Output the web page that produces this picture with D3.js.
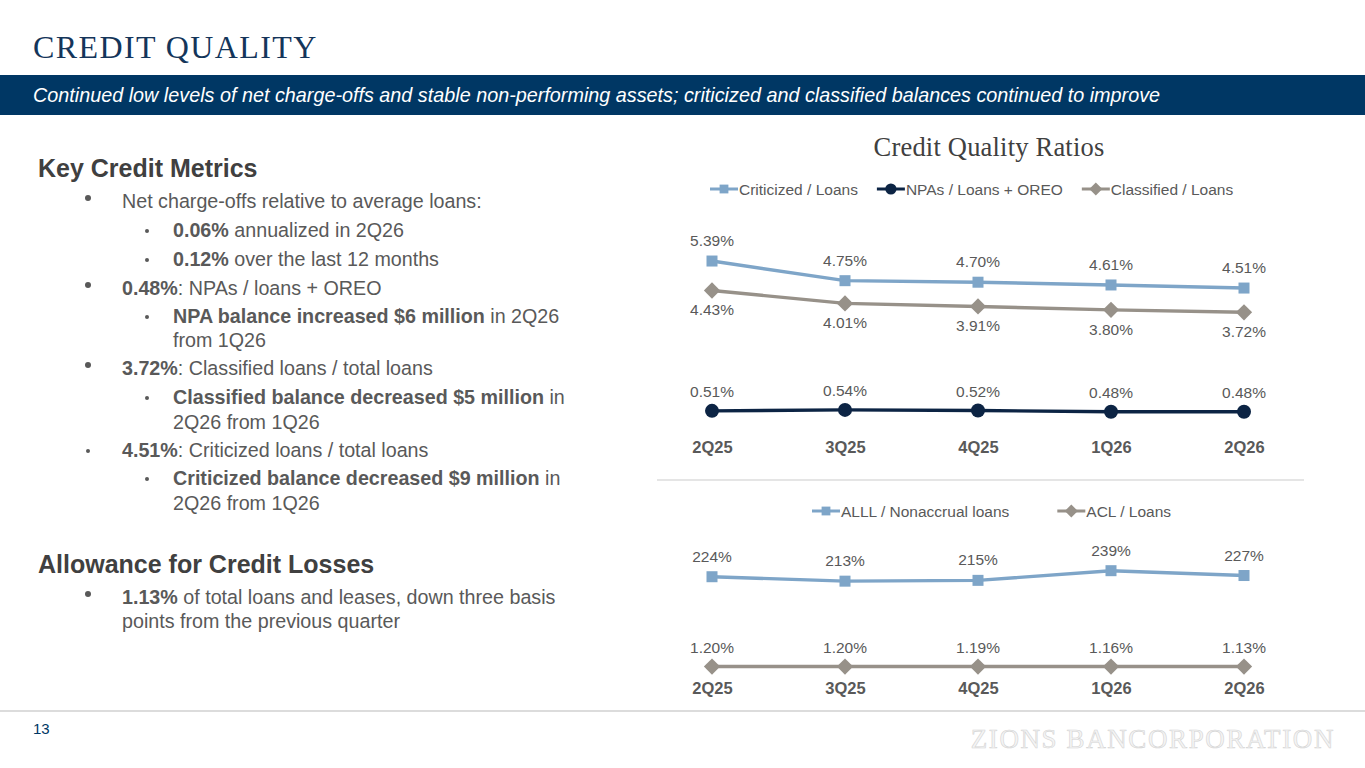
<!DOCTYPE html>
<html>
<head>
<meta charset="utf-8">
<script src="https://cdn.jsdelivr.net/npm/d3@7"></script>
<style>
  body { margin: 0; background: #fff; }
  svg { display: block; font-family: Arial, "Liberation Sans", sans-serif; }
</style>
</head>
<body>
<div id="slide"></div>
<script>
// data
var quarters = ["2Q25", "3Q25", "4Q25", "1Q26", "2Q26"];
var criticized = [5.39, 4.75, 4.70, 4.61, 4.51];
var npas = [0.51, 0.54, 0.52, 0.48, 0.48];
var classified = [4.43, 4.01, 3.91, 3.80, 3.72];
var alll = [224, 213, 215, 239, 227];
var acl = [1.20, 1.20, 1.19, 1.16, 1.13];

var svgWidth = 1365;
var svgHeight = 768;

var navy = "#003764";
var textGray = "#595959";
var blue = "#7ea5c8";
var dark = "#0c2444";
var gray = "#979189";

var svg = d3.select("#slide")
  .append("svg")
  .attr("width", svgWidth)
  .attr("height", svgHeight);

// header
svg.append("text")
  .attr("x", 33)
  .attr("y", 58)
  .attr("font-family", "'Liberation Serif', serif")
  .attr("font-size", "32px")
  .attr("letter-spacing", "1.4px")
  .attr("fill", "#14355a")
  .text("CREDIT QUALITY");

svg.append("rect")
  .attr("x", 0).attr("y", 75)
  .attr("width", svgWidth).attr("height", 40)
  .attr("fill", navy);

svg.append("text")
  .attr("x", 33)
  .attr("y", 102)
  .attr("font-size", "19.8px")
  .attr("font-style", "italic")
  .attr("fill", "#fff")
  .text("Continued low levels of net charge-offs and stable non-performing assets; criticized and classified balances continued to improve");

// left side text
function heading(txt, y) {
  svg.append("text")
    .attr("x", 38).attr("y", y)
    .attr("font-size", "25px")
    .attr("font-weight", "bold")
    .attr("fill", "#404040")
    .text(txt);
}

// each line: level (0 none, 1 bullet, 2 sub bullet, 3 small bullet), parts [text, bold]
var lines = [
  { y: 208, lvl: 1, parts: [["Net charge-offs relative to average loans:", false]] },
  { y: 237, lvl: 2, parts: [["0.06%", true], [" annualized in 2Q26", false]] },
  { y: 266, lvl: 2, parts: [["0.12%", true], [" over the last 12 months", false]] },
  { y: 295, lvl: 1, parts: [["0.48%", true], [": NPAs / loans + OREO", false]] },
  { y: 323, lvl: 2, parts: [["NPA balance increased $6 million", true], [" in 2Q26", false]] },
  { y: 347, lvl: 0, x: 173, parts: [["from 1Q26", false]] },
  { y: 375, lvl: 1, parts: [["3.72%", true], [": Classified loans / total loans", false]] },
  { y: 404, lvl: 2, parts: [["Classified balance decreased $5 million", true], [" in", false]] },
  { y: 429, lvl: 0, x: 173, parts: [["2Q26 from 1Q26", false]] },
  { y: 457, lvl: 3, parts: [["4.51%", true], [": Criticized loans / total loans", false]] },
  { y: 485, lvl: 2, parts: [["Criticized balance decreased $9 million", true], [" in", false]] },
  { y: 510, lvl: 0, x: 173, parts: [["2Q26 from 1Q26", false]] },
  { y: 604, lvl: 1, parts: [["1.13%", true], [" of total loans and leases, down three basis", false]] },
  { y: 628, lvl: 0, x: 122, parts: [["points from the previous quarter", false]] }
];

heading("Key Credit Metrics", 177);
heading("Allowance for Credit Losses", 573);

lines.forEach(function(l) {
  var tx = l.x || (l.lvl === 2 ? 173 : 122);
  if (l.lvl === 1) {
    svg.append("circle").attr("cx", 88).attr("cy", l.y - 10).attr("r", 3).attr("fill", textGray);
  } else if (l.lvl === 2) {
    svg.append("circle").attr("cx", 147).attr("cy", l.y - 6).attr("r", 2).attr("fill", textGray);
  } else if (l.lvl === 3) {
    svg.append("circle").attr("cx", 88).attr("cy", l.y - 6).attr("r", 2).attr("fill", textGray);
  }
  var t = svg.append("text")
    .attr("x", tx).attr("y", l.y)
    .attr("font-size", "19.7px")
    .attr("fill", textGray);
  l.parts.forEach(function(p) {
    t.append("tspan")
      .attr("font-weight", p[1] ? "bold" : "normal")
      .text(p[0]);
  });
});

// charts
var xScale = d3.scalePoint()
  .domain(quarters)
  .range([712, 1244]);

var yTop = d3.scaleLinear()
  .domain([0, 6])
  .range([426.5, 242.3]);

var yBottom = d3.scaleLinear()
  .domain([0, 250])
  .range([667, 566.25]);

svg.append("text")
  .attr("x", 989)
  .attr("y", 156)
  .attr("text-anchor", "middle")
  .attr("font-family", "'Liberation Serif', serif")
  .attr("font-size", "26.5px")
  .attr("letter-spacing", "0.2px")
  .attr("fill", "#404040")
  .text("Credit Quality Ratios");

var shapes = {
  square: function(g, s) {
    g.append("rect").attr("x", -s / 2).attr("y", -s / 2).attr("width", s).attr("height", s);
  },
  circle: function(g, s) {
    g.append("circle").attr("r", s / 2);
  },
  diamond: function(g, s) {
    g.append("rect").attr("x", -s / 2).attr("y", -s / 2).attr("width", s).attr("height", s)
      .attr("transform", "rotate(45)");
  }
};

var markerSize = { square: 11, circle: 14, diamond: 11.5 };

function drawSeries(values, yScale, color, shape, labelDy, fmt) {
  var pts = values.map(function(v, i) { return { q: quarters[i], v: v }; });
  var line = d3.line()
    .x(function(d) { return xScale(d.q); })
    .y(function(d) { return yScale(d.v); });

  svg.append("path")
    .datum(pts)
    .attr("d", line)
    .attr("fill", "none")
    .attr("stroke", color)
    .attr("stroke-width", 3.4);

  var m = svg.selectAll(null)
    .data(pts)
    .enter()
    .append("g")
    .attr("transform", function(d) { return "translate(" + xScale(d.q) + "," + yScale(d.v) + ")"; })
    .attr("fill", color);
  m.each(function() { shapes[shape](d3.select(this), markerSize[shape]); });

  svg.selectAll(null)
    .data(pts)
    .enter()
    .append("text")
    .attr("x", function(d) { return xScale(d.q); })
    .attr("y", function(d) { return yScale(d.v) + labelDy; })
    .attr("text-anchor", "middle")
    .attr("font-size", "15.5px")
    .attr("fill", textGray)
    .text(function(d) { return fmt(d.v); });
}

var pct2 = function(v) { return d3.format(".2f")(v) + "%"; };
var pct0 = function(v) { return d3.format(".0f")(v) + "%"; };

drawSeries(criticized, yTop, blue, "square", -15, pct2);
drawSeries(classified, yTop, gray, "diamond", 25, pct2);
drawSeries(npas, yTop, dark, "circle", -14, pct2);

drawSeries(alll, yBottom, blue, "square", -15, pct0);
drawSeries(acl, yBottom, gray, "diamond", -14, pct2);

function categoryAxis(y) {
  var ax = svg.append("g")
    .attr("transform", "translate(0," + y + ")")
    .call(d3.axisBottom(xScale).tickSize(0).tickPadding(0));
  ax.select(".domain").remove();
  ax.selectAll("text")
    .attr("font-size", "16.5px")
    .attr("font-weight", "bold")
    .attr("font-family", "Arial, 'Liberation Sans', sans-serif")
    .attr("fill", textGray)
    .attr("dy", "0.35em");
}
categoryAxis(447);
categoryAxis(688);

// divider between the two charts
svg.append("line")
  .attr("x1", 657).attr("x2", 1304)
  .attr("y1", 480).attr("y2", 480)
  .attr("stroke", "#dcdcdc")
  .attr("stroke-width", 1.5);

// legends
function legend(items, x0, y, gap) {
  var x = x0;
  items.forEach(function(it) {
    var g = svg.append("g");
    g.append("line")
      .attr("x1", x).attr("x2", x + 28)
      .attr("y1", y).attr("y2", y)
      .attr("stroke", it.color).attr("stroke-width", 3);
    var m = g.append("g")
      .attr("transform", "translate(" + (x + 14) + "," + y + ")")
      .attr("fill", it.color);
    shapes[it.shape](m, markerSize[it.shape] * 0.8);
    var t = g.append("text")
      .attr("x", x + 29).attr("y", y + 5.5)
      .attr("font-size", "15.5px")
      .attr("fill", textGray)
      .text(it.name);
    x += 29 + t.node().getComputedTextLength() + gap;
  });
}

legend([
  { name: "Criticized / Loans", color: blue, shape: "square" },
  { name: "NPAs / Loans + OREO", color: dark, shape: "circle" },
  { name: "Classified / Loans", color: gray, shape: "diamond" }
], 710, 189, 19);

legend([
  { name: "ALLL / Nonaccrual loans", color: blue, shape: "square" },
  { name: "ACL / Loans", color: gray, shape: "diamond" }
], 812, 511, 48);

// footer
svg.append("line")
  .attr("x1", 0).attr("x2", svgWidth)
  .attr("y1", 711).attr("y2", 711)
  .attr("stroke", "#d0d0d0")
  .attr("stroke-width", 1.5);

svg.append("text")
  .attr("x", 33).attr("y", 734)
  .attr("font-size", "15px")
  .attr("fill", navy)
  .text("13");

svg.append("text")
  .attr("x", 1335).attr("y", 748)
  .attr("text-anchor", "end")
  .attr("font-family", "'Liberation Serif', serif")
  .attr("font-size", "27px")
  .attr("letter-spacing", "1.6px")
  .attr("fill", "#f4f4f4")
  .attr("stroke", "#d4d4d4")
  .attr("stroke-width", 0.6)
  .text("ZIONS BANCORPORATION");
</script>
</body>
</html>
